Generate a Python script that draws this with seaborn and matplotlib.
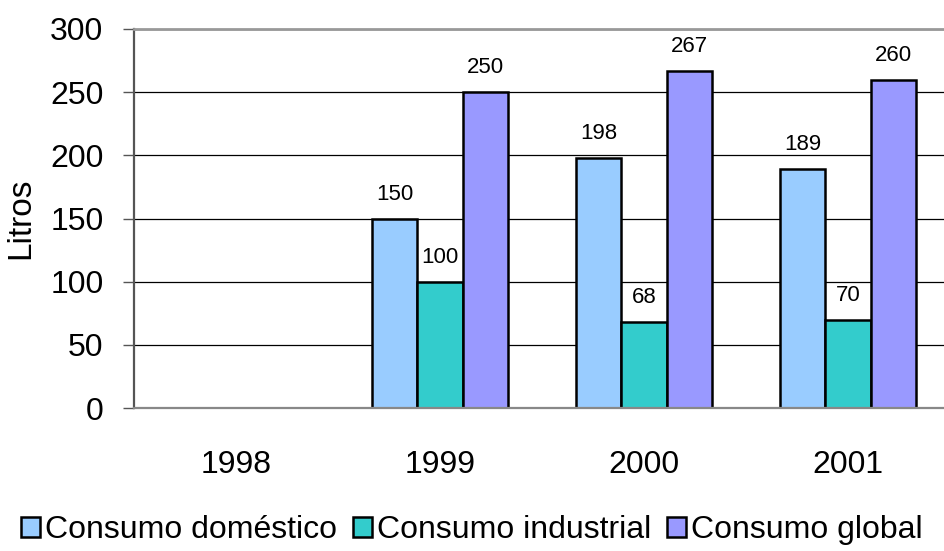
import numpy as np
import pandas as pd
import seaborn as sns
import matplotlib.pyplot as plt

# valores (1998 sem dados)
anos = ['1998', '1999', '2000', '2001']
domestico = [np.nan, 150, 198, 189]
industrial = [np.nan, 100, 68, 70]
glob = [np.nan, 250, 267, 260]
series = ['Consumo doméstico', 'Consumo industrial', 'Consumo global']
cores = ['#99CCFF', '#33CCCC', '#9999FF']

df = pd.DataFrame({'ano': anos * 3,
                   'serie': np.repeat(series, len(anos)),
                   'litros': domestico + industrial + glob})

sns.set_style('white')
plt.rcParams['font.family'] = ['Liberation Sans', 'DejaVu Sans']
plt.rcParams['text.color'] = 'black'
plt.rcParams['xtick.color'] = 'black'
plt.rcParams['ytick.color'] = 'black'
plt.rcParams['axes.labelcolor'] = 'black'

fig = plt.figure(figsize=(9.44, 5.51), dpi=100)
ax = fig.add_axes([134/944, 143/551, 816/944, 379/551])

sns.barplot(data=df, x='ano', y='litros', hue='serie', order=anos,
            hue_order=series, palette=cores, width=2/3, gap=0,
            edgecolor='black', linewidth=1.8, saturation=1, ax=ax,
            errorbar=None, legend=True)

for c in ax.containers:
    ax.bar_label(c, fmt='%d', padding=10, fontsize=16, color='black')

ax.set_ylim(0, 300)
ax.set_xlim(-0.5, 3.5)
ax.set_yticks(range(0, 301, 50))
ax.yaxis.grid(True, color='black', linewidth=0.9)
ax.set_axisbelow(True)

ax.set_xticks(range(4))
ax.set_xticks(np.arange(-0.5, 3.6, 1), minor=True)
ax.tick_params(axis='x', which='major', length=0, pad=30, labelsize=23)
ax.tick_params(axis='x', which='minor', length=8, width=1, color='#555555', direction='out')
ax.tick_params(axis='y', length=8, width=1, color='#555555', direction='out',
               pad=14, labelsize=23, left=True)
ax.set_xlabel('')
ax.set_ylabel('Litros', fontsize=24, labelpad=10)

ax.spines['left'].set_color('#555555')
ax.spines['left'].set_linewidth(1.6)
ax.spines['bottom'].set_color('#888888')
ax.spines['bottom'].set_linewidth(1.6)
ax.spines['top'].set_color('#999999')
ax.spines['top'].set_linewidth(2)
ax.spines['right'].set_visible(False)

handles, labels = ax.get_legend_handles_labels()
ax.get_legend().remove()
fig.legend(handles, labels, loc='center', bbox_to_anchor=(0.5, 0.038), ncol=3,
           frameon=False, fontsize=23, handlelength=0.6, handleheight=0.6,
           handletextpad=0.15, columnspacing=0.5, borderaxespad=0)

fig.savefig('out.png', dpi=100)
